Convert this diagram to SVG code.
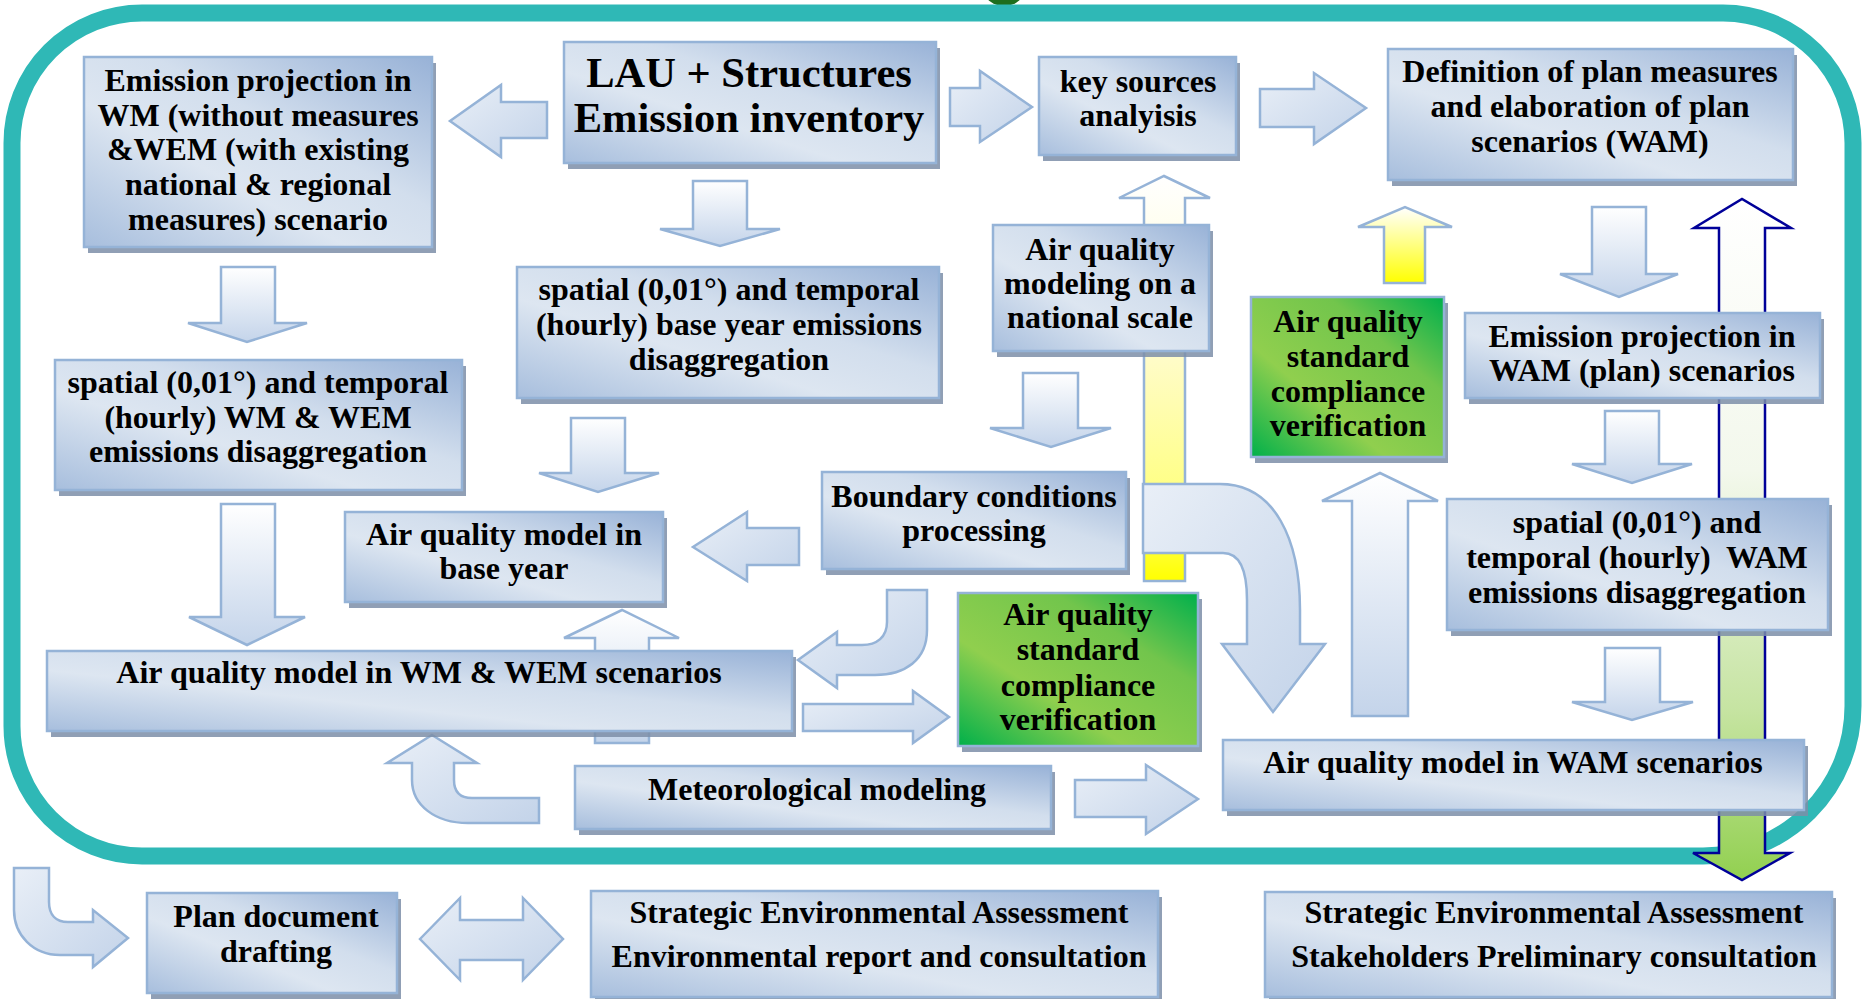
<svg xmlns="http://www.w3.org/2000/svg" width="1865" height="999" viewBox="0 0 1865 999">
<defs>
<style>
.box{fill:url(#gBox);stroke:#95b3d7;stroke-width:2.5}
.gbox{fill:url(#gGreen);stroke:#95b3d7;stroke-width:2.5}
.sh{fill:#7d8ea8;opacity:0.85}
.arrV{fill:url(#gArrV);stroke:#95b3d7;stroke-width:2.5}
.arrH{fill:url(#gArrH);stroke:#95b3d7;stroke-width:2.5}
.arrY{fill:url(#gYel);stroke:#95b3d7;stroke-width:2.5}
.t{font-family:"Liberation Serif","Times New Roman",serif;font-weight:bold;font-size:32px;fill:#000;text-anchor:middle}
.big{font-size:42.5px}
</style>
<linearGradient id="gBox" x1="1" y1="0" x2="0" y2="1">
<stop offset="0" stop-color="#98b2d7"/>
<stop offset="0.4" stop-color="#d2deed"/>
<stop offset="0.62" stop-color="#dde6f1"/>
<stop offset="1" stop-color="#a7bedd"/>
</linearGradient>
<linearGradient id="gGreen" x1="1" y1="0" x2="0" y2="1">
<stop offset="0" stop-color="#00b04c"/>
<stop offset="0.3" stop-color="#72c54c"/>
<stop offset="0.65" stop-color="#90cf4e"/>
<stop offset="1" stop-color="#00b04a"/>
</linearGradient>
<linearGradient id="gArrV" x1="0" y1="0" x2="0" y2="1">
<stop offset="0" stop-color="#ffffff"/>
<stop offset="1" stop-color="#c4d4ea"/>
</linearGradient>
<linearGradient id="gArrH" x1="0" y1="0" x2="1" y2="1">
<stop offset="0" stop-color="#e9eff7"/>
<stop offset="1" stop-color="#c3d3e9"/>
</linearGradient>
<linearGradient id="gYel" x1="0" y1="0" x2="0" y2="1">
<stop offset="0" stop-color="#ffffff"/>
<stop offset="0.45" stop-color="#fffcc8"/>
<stop offset="0.8" stop-color="#ffff80"/>
<stop offset="1" stop-color="#ffff00"/>
</linearGradient>
<linearGradient id="gYel2" x1="0" y1="0" x2="0" y2="1">
<stop offset="0" stop-color="#ffffff"/>
<stop offset="1" stop-color="#ffff00"/>
</linearGradient>
<linearGradient id="gBlueGreen" x1="0" y1="0" x2="0" y2="1">
<stop offset="0" stop-color="#ffffff"/>
<stop offset="0.4" stop-color="#f3f8ec"/>
<stop offset="0.75" stop-color="#c6e4a2"/>
<stop offset="1" stop-color="#92d050"/>
</linearGradient>
</defs>

<g id="frame">
<ellipse cx="1004" cy="-10" rx="20" ry="16" fill="#1e6e1e"/>
<path d="M142,13 H1723 A130,130 0 0 1 1853,143 V706 A150,150 0 0 1 1703,856 H142 A130,130 0 0 1 12,726 V143 A130,130 0 0 1 142,13 Z" fill="none" stroke="#2fb8b6" stroke-width="17"/>
</g>

<g id="connectors">
<!-- long yellow up arrow (national -> key sources) -->
<path class="arrY" d="M1144,581 V198 H1119 L1164,176 L1210,198 H1185 V581 Z"/>
<!-- short yellow up arrow (green -> definition) -->
<path class="arrY" style="fill:url(#gYel2)" d="M1384,283 V227 H1358 L1405,207 L1452,227 H1425 V283 Z"/>
<!-- blue double arrow -->
<path d="M1719,853 V228 H1694 L1742,199 L1791,228 H1765 V853 H1790 L1742,880 L1693,853 Z" fill="url(#gBlueGreen)" stroke="#000099" stroke-width="2.5"/>
<!-- up arrow WM -> base year -->
<path class="arrV" d="M595,743 V638 H564 L622,610 L679,638 H649 V743 Z"/>
<!-- down arrows -->
<path class="arrV" d="M693,181 H747 V229 H780 L720,246 L660,229 H693 Z"/>
<path class="arrV" d="M221,267 H275 V323 H307 L247,342 L188,323 H221 Z"/>
<path class="arrV" d="M571,418 H625 V473 H659 L598,492 L539,473 H571 Z"/>
<path class="arrV" d="M221,504 H275 V617 H305 L247,645 L189,617 H221 Z"/>
<path class="arrV" d="M1023,373 H1078 V428 H1111 L1051,447 L990,428 H1023 Z"/>
<path class="arrV" d="M1592,207 H1646 V274 H1678 L1619,297 L1560,274 H1592 Z"/>
<path class="arrV" d="M1605,411 H1659 V464 H1692 L1632,483 L1572,464 H1605 Z"/>
<path class="arrV" d="M1605,648 H1660 V702 H1693 L1632,720 L1572,702 H1605 Z"/>
<!-- up arrow WAM model -> green -->
<path class="arrV" d="M1352,716 V501 H1322 L1380,473 L1438,501 H1408 V716 Z"/>
<!-- horizontal arrows -->
<path class="arrH" d="M547,102 H501 V85 L450,121 L501,157 V138 H547 Z"/>
<path class="arrH" d="M950,88 H980 V71 L1032,107 L980,142 V126 H950 Z"/>
<path class="arrH" d="M1260,89 H1314 V73 L1366,108 L1314,144 V127 H1260 Z"/>
<path class="arrH" d="M799,528 H747 V512 L693,547 L747,581 V565 H799 Z"/>
<path class="arrH" d="M803,704 H913 V691 L949,717 L913,743 V731 H803 Z"/>
<path class="arrH" d="M1075,780 H1146 V765 L1198,799 L1146,834 V817 H1075 Z"/>
<path class="arrH" d="M420,939 L460,898 V920 H523 V898 L563,939 L523,980 V960 H460 V980 Z"/>
<!-- curved arrows -->
<path class="arrH" d="M1143,484 H1220 C1275,484 1300,540 1300,610 V644 H1325 L1273,712 L1222,644 H1247 V600 C1247,570 1240,553 1223,553 H1143 Z"/>
<path class="arrH" d="M887,590 H927 V630 C927,660 905,675 875,675 H837 V688 L798,660 L837,632 V645 H862 C877,645 887,637 887,622 Z"/>
<path class="arrH" d="M432,735 L477,763 H454 V780 C454,792 460,798 472,798 H539 V823 H468 C435,823 412,805 412,780 V763 H387 Z"/>
<path class="arrH" d="M14,868 H49 V902 C49,915 56,922 68,922 H93 V910 L128,938 L93,967 V955 H60 C33,955 14,935 14,910 Z"/>
</g>

<g id="n-emission-wm">
<rect class="sh" x="88" y="63" width="348" height="190"/>
<rect class="box" x="84" y="57" width="348" height="190"/>
<text class="t" x="258" y="91">Emission projection in</text>
<text class="t" x="258" y="125.5">WM (without measures</text>
<text class="t" x="258" y="160">&amp;WEM (with existing</text>
<text class="t" x="258" y="195">national &amp; regional</text>
<text class="t" x="258" y="229.5">measures) scenario</text>
</g>

<g id="n-lau">
<rect class="sh" x="568" y="48" width="372" height="121"/>
<rect class="box" x="564" y="42" width="372" height="121"/>
<text class="t big" x="749" y="87">LAU + Structures</text>
<text class="t big" x="749" y="132">Emission inventory</text>
</g>

<g id="n-key">
<rect class="sh" x="1043" y="63" width="197" height="98"/>
<rect class="box" x="1039" y="57" width="197" height="98"/>
<text class="t" x="1138" y="92">key sources</text>
<text class="t" x="1138" y="126">analyisis</text>
</g>

<g id="n-definition">
<rect class="sh" x="1392" y="55" width="405" height="131"/>
<rect class="box" x="1388" y="49" width="405" height="131"/>
<text class="t" x="1590" y="82">Definition of plan measures</text>
<text class="t" x="1590" y="117">and elaboration of plan</text>
<text class="t" x="1590" y="152">scenarios (WAM)</text>
</g>

<g id="n-spatial-base">
<rect class="sh" x="521" y="273" width="422" height="131"/>
<rect class="box" x="517" y="267" width="422" height="131"/>
<text class="t" x="729" y="300">spatial (0,01°) and temporal</text>
<text class="t" x="729" y="335">(hourly) base year emissions</text>
<text class="t" x="729" y="370">disaggregation</text>
</g>

<g id="n-national">
<rect class="sh" x="997" y="231" width="216" height="126"/>
<rect class="box" x="993" y="225" width="216" height="126"/>
<text class="t" x="1100" y="260">Air quality</text>
<text class="t" x="1100" y="294">modeling on a</text>
<text class="t" x="1100" y="328">national scale</text>
</g>

<g id="n-green1">
<rect class="sh" x="1255" y="303" width="193" height="160"/>
<rect class="gbox" x="1251" y="297" width="193" height="160"/>
<text class="t" x="1348" y="332">Air quality</text>
<text class="t" x="1348" y="367">standard</text>
<text class="t" x="1348" y="402">compliance</text>
<text class="t" x="1348" y="436">verification</text>
</g>

<g id="n-wam-proj">
<rect class="sh" x="1469" y="319" width="355" height="85"/>
<rect class="box" x="1465" y="313" width="355" height="85"/>
<text class="t" x="1642" y="347">Emission projection in</text>
<text class="t" x="1642" y="381">WAM (plan) scenarios</text>
</g>

<g id="n-spatial-wm">
<rect class="sh" x="59" y="366" width="407" height="130"/>
<rect class="box" x="55" y="360" width="407" height="130"/>
<text class="t" x="258" y="393">spatial (0,01°) and temporal</text>
<text class="t" x="258" y="428">(hourly) WM &amp; WEM</text>
<text class="t" x="258" y="462">emissions disaggregation</text>
</g>

<g id="n-boundary">
<rect class="sh" x="826" y="478" width="304" height="97"/>
<rect class="box" x="822" y="472" width="304" height="97"/>
<text class="t" x="974" y="507">Boundary conditions</text>
<text class="t" x="974" y="541">processing</text>
</g>

<g id="n-base-year">
<rect class="sh" x="349" y="518" width="318" height="90"/>
<rect class="box" x="345" y="512" width="318" height="90"/>
<text class="t" x="504" y="545">Air quality model in</text>
<text class="t" x="504" y="579">base year</text>
</g>

<g id="n-spatial-wam">
<rect class="sh" x="1451" y="505" width="381" height="131"/>
<rect class="box" x="1447" y="499" width="381" height="131"/>
<text class="t" x="1637" y="533">spatial (0,01°) and</text>
<text class="t" x="1637" y="568" xml:space="preserve">temporal (hourly)  WAM</text>
<text class="t" x="1637" y="603">emissions disaggregation</text>
</g>

<g id="n-wm-model">
<rect class="sh" x="51" y="657" width="745" height="80"/>
<rect class="box" x="47" y="651" width="745" height="80"/>
<text class="t" x="419" y="683">Air quality model in WM &amp; WEM scenarios</text>
</g>

<g id="n-green2">
<rect class="sh" x="962" y="599" width="240" height="153"/>
<rect class="gbox" x="958" y="593" width="240" height="153"/>
<text class="t" x="1078" y="625">Air quality</text>
<text class="t" x="1078" y="660">standard</text>
<text class="t" x="1078" y="696">compliance</text>
<text class="t" x="1078" y="730">verification</text>
</g>

<g id="n-wam-model">
<rect class="sh" x="1227" y="746" width="581" height="70"/>
<rect class="box" x="1223" y="740" width="581" height="70"/>
<text class="t" x="1513" y="773">Air quality model in WAM scenarios</text>
</g>

<g id="n-meteo">
<rect class="sh" x="579" y="772" width="476" height="63"/>
<rect class="box" x="575" y="766" width="476" height="63"/>
<text class="t" x="817" y="800">Meteorological modeling</text>
</g>

<g id="n-plan">
<rect class="sh" x="151" y="899" width="250" height="100"/>
<rect class="box" x="147" y="893" width="250" height="100"/>
<text class="t" x="276" y="927">Plan document</text>
<text class="t" x="276" y="962">drafting</text>
</g>

<g id="n-sea-env">
<rect class="sh" x="595" y="897" width="567" height="106"/>
<rect class="box" x="591" y="891" width="567" height="106"/>
<text class="t" x="879" y="923">Strategic Environmental Assessment</text>
<text class="t" x="879" y="967">Environmental report and consultation</text>
</g>

<g id="n-sea-stake">
<rect class="sh" x="1269" y="898" width="567" height="105"/>
<rect class="box" x="1265" y="892" width="567" height="105"/>
<text class="t" x="1554" y="923">Strategic Environmental Assessment</text>
<text class="t" x="1554" y="967">Stakeholders Preliminary consultation</text>
</g>
</svg>
